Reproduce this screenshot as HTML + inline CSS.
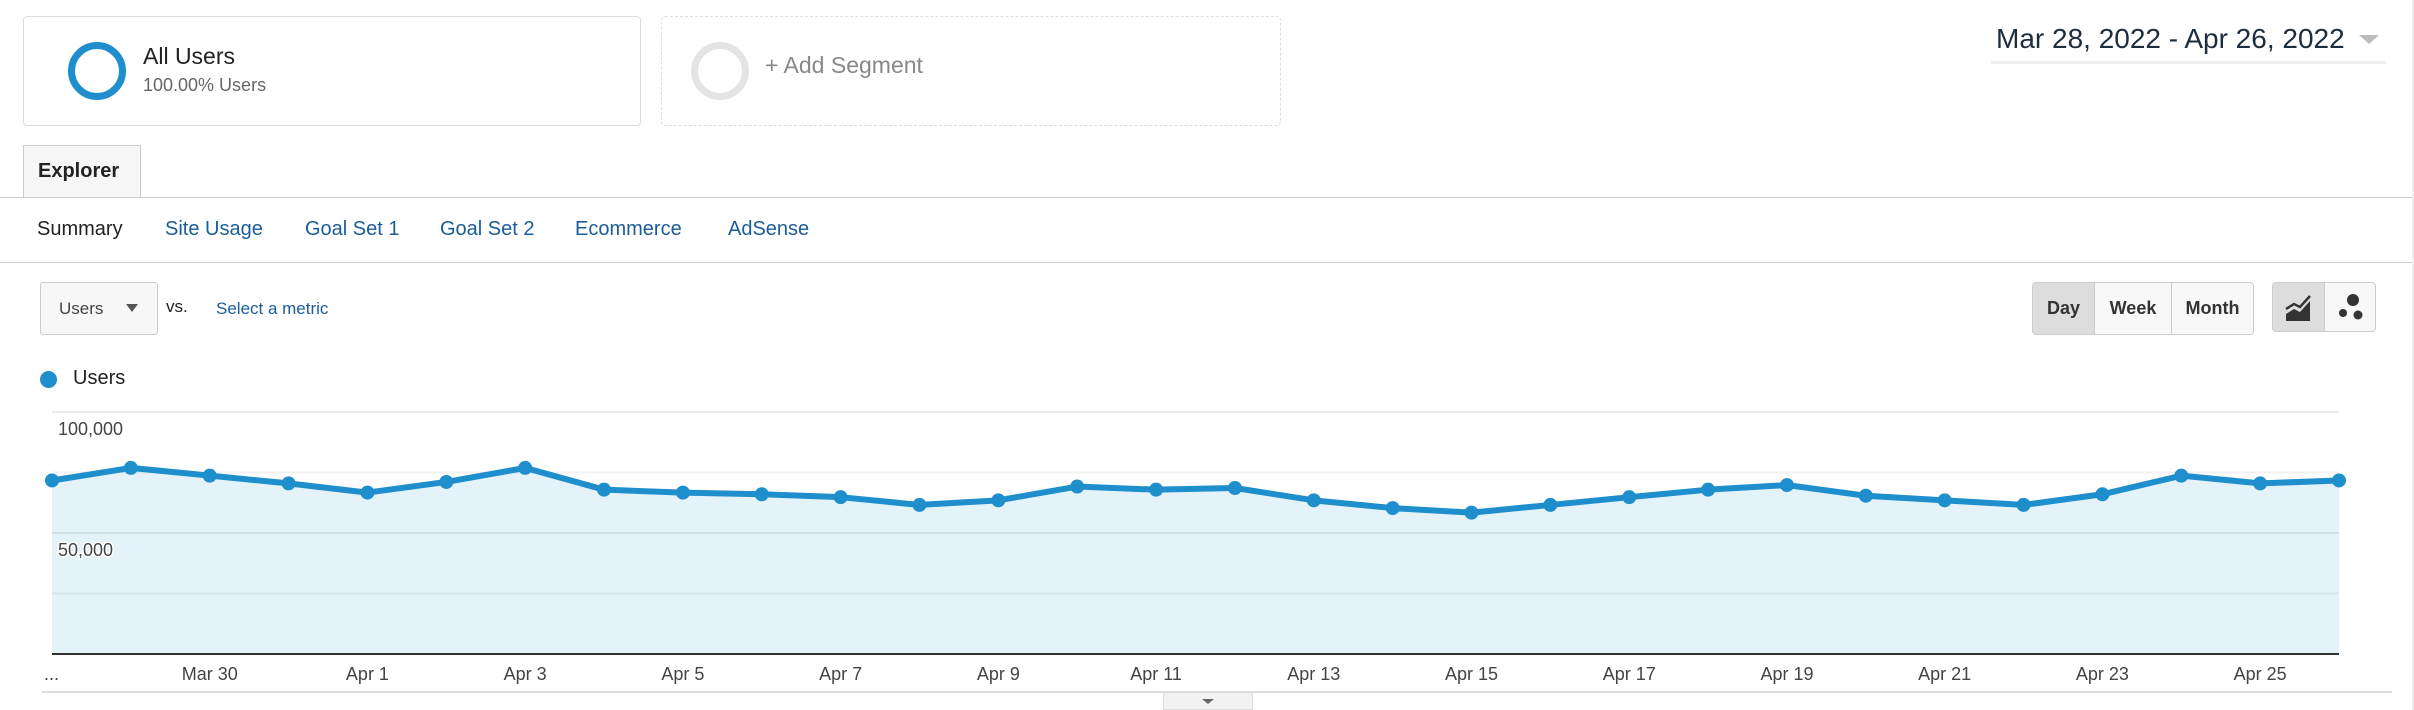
<!DOCTYPE html>
<html><head><meta charset="utf-8"><style>
body{margin:0;width:2414px;height:710px;background:#fff;font-family:"Liberation Sans",sans-serif;position:relative;overflow:hidden}
.a{position:absolute}
.lnk{color:#1a5d9c}
</style></head><body>
<div class="a" style="left:23px;top:16px;width:618px;height:110px;border:1px solid #ddd;border-radius:4px;box-sizing:border-box"></div>
<div class="a" style="left:68px;top:42px;width:58px;height:58px;border:7px solid #1e8fcc;border-radius:50%;box-sizing:border-box"></div>
<div class="a" style="left:143px;top:43px;font-size:23px;color:#222">All Users</div>
<div class="a" style="left:143px;top:75px;font-size:18px;color:#666">100.00% Users</div>
<div class="a" style="left:661px;top:16px;width:620px;height:110px;border:1px dashed #ddd;border-radius:4px;box-sizing:border-box"></div>
<div class="a" style="left:691px;top:42px;width:58px;height:58px;border:7px solid #e4e4e4;border-radius:50%;box-sizing:border-box"></div>
<div class="a" style="left:765px;top:52px;font-size:23px;color:#888">+ Add Segment</div>
<div class="a" style="left:1996px;top:23px;font-size:28px;color:#1d2d3e">Mar 28, 2022 - Apr 26, 2022</div>
<div class="a" style="left:2359px;top:35px;width:0;height:0;border-left:10px solid transparent;border-right:10px solid transparent;border-top:9px solid #bbb"></div>
<div class="a" style="left:1991px;top:61px;width:395px;height:3px;background:#eee"></div>
<div class="a" style="left:2412px;top:0;width:2px;height:710px;background:#eee"></div>
<div class="a" style="left:23px;top:145px;width:118px;height:53px;border:1px solid #ccc;border-bottom:none;background:#f6f6f6;box-sizing:border-box;font-weight:bold;font-size:20px;color:#222;padding:14px 0 0 14px">Explorer</div>
<div class="a" style="left:0;top:197px;width:2412px;height:1px;background:#ccc"></div>
<div class="a" style="left:37px;top:218px;font-size:20px;color:#222">Summary</div>
<div class="a lnk" style="left:165px;top:218px;font-size:20px">Site Usage</div>
<div class="a lnk" style="left:305px;top:218px;font-size:20px">Goal Set 1</div>
<div class="a lnk" style="left:440px;top:218px;font-size:20px">Goal Set 2</div>
<div class="a lnk" style="left:575px;top:218px;font-size:20px">Ecommerce</div>
<div class="a lnk" style="left:728px;top:218px;font-size:20px">AdSense</div>
<div class="a" style="left:0;top:262px;width:2412px;height:1px;background:#ccc"></div>
<div class="a" style="left:40px;top:282px;width:118px;height:53px;border:1px solid #ccc;border-radius:3px;background:#f7f7f7;box-sizing:border-box;font-size:17px;color:#444;padding:16px 0 0 18px">Users</div>
<div class="a" style="left:126px;top:304px;border-left:6px solid transparent;border-right:6px solid transparent;border-top:8px solid #555"></div>
<div class="a" style="left:166px;top:297px;font-size:17px;color:#222">vs.</div>
<div class="a lnk" style="left:216px;top:299px;font-size:17px">Select a metric</div>
<div class="a" style="left:2032px;top:282px;width:222px;height:53px;border:1px solid #ccc;border-radius:4px;box-sizing:border-box;display:flex;font-weight:bold;font-size:18px;color:#333;overflow:hidden">
<div style="width:61px;background:#ddd;text-align:center;line-height:51px;border-right:1px solid #ccc">Day</div>
<div style="width:76px;background:#f8f8f8;text-align:center;line-height:51px;border-right:1px solid #ccc">Week</div>
<div style="flex:1;background:#f8f8f8;text-align:center;line-height:51px">Month</div></div>
<div class="a" style="left:2272px;top:282px;width:104px;height:50px;border:1px solid #ccc;border-radius:4px;box-sizing:border-box;display:flex;overflow:hidden">
<div style="width:51px;background:#ddd;border-right:1px solid #ccc"><svg width="50" height="48"><path d="M13 38 L13 31 L21 26 L27 29 L37 18 L37 38Z" fill="#333"/><path d="M13 26 L21 21 L27 24 L37 13" stroke="#333" stroke-width="2.5" fill="none"/></svg></div>
<div style="flex:1;background:#f8f8f8"><svg width="50" height="48"><circle cx="28" cy="17" r="6" fill="#333"/><circle cx="18" cy="30" r="4" fill="#333"/><circle cx="33" cy="32" r="4.5" fill="#333"/></svg></div></div>
<div class="a" style="left:40px;top:371px;width:17px;height:17px;border-radius:50%;background:#1e8fcc"></div>
<div class="a" style="left:73px;top:367px;font-size:20px;color:#222">Users</div>
<svg class="a" style="left:0;top:0" width="2414" height="710" id="chart"></svg>
<div class="a" style="left:42px;top:691px;width:2350px;height:2px;background:#ddd"></div>
<div class="a" style="left:1163px;top:692px;width:90px;height:18px;background:#f2f2f2;border:1px solid #ddd;box-sizing:border-box"><div style="margin:6px auto 0;width:0;border-left:6px solid transparent;border-right:6px solid transparent;border-top:5px solid #666"></div></div>
<script>
const categories=["Mar 28","Mar 29","Mar 30","Mar 31","Apr 1","Apr 2","Apr 3","Apr 4","Apr 5","Apr 6","Apr 7","Apr 8","Apr 9","Apr 10","Apr 11","Apr 12","Apr 13","Apr 14","Apr 15","Apr 16","Apr 17","Apr 18","Apr 19","Apr 20","Apr 21","Apr 22","Apr 23","Apr 24","Apr 25","Apr 26"];
const users=[71700,76900,73700,70500,66700,71100,76900,67900,66700,66000,64800,61600,63500,69200,67900,68600,63500,60300,58400,61600,64800,67900,69800,65400,63500,61600,66000,73700,70500,71700];
const yTicks=[50000,100000];
const yTickLabels=["50,000","100,000"];
const xLabelIdx=[2,4,6,8,10,12,14,16,18,20,22,24,26,28];
const xLabels=["Mar 30","Apr 1","Apr 3","Apr 5","Apr 7","Apr 9","Apr 11","Apr 13","Apr 15","Apr 17","Apr 19","Apr 21","Apr 23","Apr 25"];
const svg=document.getElementById('chart'),NS='http://www.w3.org/2000/svg';
const X0=52,X1=2339,Y0=654,PX=121/50000;
const x=i=>X0+(X1-X0)*i/(categories.length-1);
const y=v=>Y0-v*PX;
function mk(t,a){const e=document.createElementNS(NS,t);for(const k in a)e.setAttribute(k,a[k]);svg.appendChild(e);return e;}
let d='M'+x(0)+' '+Y0;users.forEach((v,i)=>d+=' L'+x(i)+' '+y(v));d+=' L'+x(users.length-1)+' '+Y0+'Z';
const area=mk('path',{d:d,fill:'#e4f2f9'});


for(let k=1;k<=4;k++){const g=mk('line',{x1:X0,x2:X1,y1:y(k*25000),y2:y(k*25000),stroke:k%2?'rgba(0,0,0,0.05)':'rgba(0,0,0,0.08)','stroke-width':2});

}
const ln=mk('polyline',{points:users.map((v,i)=>x(i)+','+y(v)).join(' '),fill:'none',stroke:'#1e8fcc','stroke-width':6,'stroke-linejoin':'round'});


users.forEach((v,i)=>{const c=mk('circle',{cx:x(i),cy:y(v),r:7,fill:'#1e8fcc'});

});
const base=mk('line',{x1:X0,x2:X1,y1:Y0,y2:Y0,stroke:'#333','stroke-width':2});


yTicks.forEach((v,i)=>{const t=mk('text',{x:58,y:y(v)+23,'font-size':18,fill:'#444','font-family':'Liberation Sans, sans-serif',stroke:'#fff','stroke-width':3,'paint-order':'stroke'});t.textContent=yTickLabels[i];

});
xLabelIdx.forEach((idx,i)=>{const t=mk('text',{x:x(idx),y:680,'font-size':18,fill:'#444','text-anchor':'middle','font-family':'Liberation Sans, sans-serif'});t.textContent=xLabels[i];

});
const el=mk('text',{x:44,y:680,'font-size':18,fill:'#444','font-family':'Liberation Sans, sans-serif'});el.textContent='...';


</script>
</body></html>
